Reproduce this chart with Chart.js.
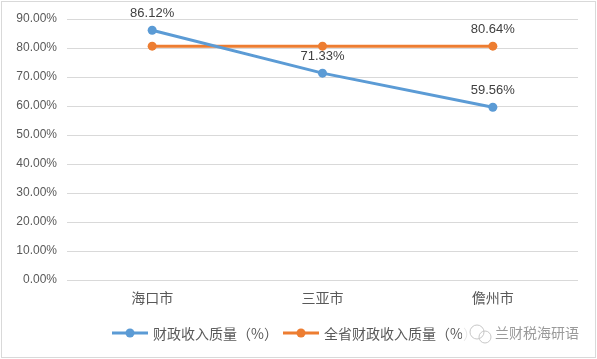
<!DOCTYPE html>
<html><head><meta charset="utf-8">
<script src="https://cdn.jsdelivr.net/npm/chart.js@4/dist/chart.umd.min.js"></script>
<style>
html,body{margin:0;padding:0;background:#fff;}
#wrap{position:relative;width:597px;height:359px;}
canvas{display:block;}
</style></head>
<body><div id="wrap"><canvas id="c" width="597" height="359"></canvas></div>
<script>
const categories = ["海口市", "三亚市", "儋州市"];
const cityQuality = [86.12, 71.33, 59.56];
const provinceQuality = [80.64, 80.64, 80.64];
const seriesNames = ["财政收入质量（%）", "全省财政收入质量（%）"];
const yTicks = [0, 10, 20, 30, 40, 50, 60, 70, 80, 90];
const labelShown = [[true, true, true], [false, false, true]];
const watermark = "兰财税海研语";

const BLUE = "#5B9BD5", ORANGE = "#ED7D31";
const CJK = "'Noto Sans CJK SC', sans-serif";
const NUM = "'Liberation Sans', Arial, sans-serif";

const framePlugin = {
  id: "frame",
  beforeDraw(chart) {
    const ctx = chart.ctx;
    ctx.save();
    ctx.fillStyle = "#fff";
    ctx.fillRect(0, 0, chart.width, chart.height);
    ctx.strokeStyle = "#d9d9d9";
    ctx.lineWidth = 1;
    ctx.strokeRect(1.5, 1.5, chart.width - 3, chart.height - 3);
    ctx.restore();
  },
  afterDatasetsDraw(chart) {
    const ctx = chart.ctx;
    ctx.save();
    // data labels
    ctx.font = "13px " + NUM;
    ctx.fillStyle = "#404040";
    ctx.textAlign = "center";
    ctx.textBaseline = "middle";
    chart.data.datasets.forEach((ds, di) => {
      const meta = chart.getDatasetMeta(di);
      meta.data.forEach((pt, i) => {
        if (!labelShown[di][i]) return;
        ctx.fillText(ds.data[i].toFixed(2) + "%", pt.x, pt.y - 17);
      });
    });
    // legend
    const ly = 333;
    const items = [{x: 112, color: BLUE}, {x: 283, color: ORANGE}];
    chart.data.datasets.forEach((ds, di) => {
      const it = items[di];
      ctx.strokeStyle = it.color;
      ctx.lineWidth = 3;
      ctx.beginPath();
      ctx.moveTo(it.x, ly);
      ctx.lineTo(it.x + 36, ly);
      ctx.stroke();
      ctx.fillStyle = it.color;
      ctx.beginPath();
      ctx.arc(it.x + 18, ly, 4.5, 0, Math.PI * 2);
      ctx.fill();
      ctx.fillStyle = "#595959";
      ctx.font = "14px " + CJK;
      ctx.textAlign = "left";
      ctx.fillText(ds.label, it.x + 41, ly + 1);
    });
    // watermark
    ctx.fillStyle = "rgba(255,255,255,0.85)";
    ctx.fillRect(462, 320, 120, 26);
    ctx.strokeStyle = "#c8c8c8";
    ctx.lineWidth = 1;
    ctx.beginPath();
    ctx.arc(477, 332, 7, 0, Math.PI * 2);
    ctx.stroke();
    ctx.beginPath();
    ctx.arc(485, 337, 6, 0, Math.PI * 2);
    ctx.stroke();
    ctx.fillStyle = "#9a9a9a";
    ctx.font = "14px " + CJK;
    ctx.textAlign = "left";
    ctx.fillText(watermark, 495, 333);
    ctx.restore();
  }
};

new Chart(document.getElementById("c"), {
  type: "line",
  data: {
    labels: categories,
    datasets: [
      {label: seriesNames[0], data: cityQuality, borderColor: BLUE, backgroundColor: BLUE,
       borderWidth: 3, pointRadius: 4.5, pointBackgroundColor: BLUE, pointBorderWidth: 0, tension: 0},
      {label: seriesNames[1], data: provinceQuality, borderColor: ORANGE, backgroundColor: ORANGE,
       borderWidth: 3, pointRadius: 4.5, pointBackgroundColor: ORANGE, pointBorderWidth: 0, tension: 0}
    ]
  },
  options: {
    responsive: false,
    animation: false,
    devicePixelRatio: 1,
    layout: {padding: {left: 0, top: 19, right: 19, bottom: 0}},
    plugins: {legend: {display: false}, tooltip: {enabled: false}},
    scales: {
      x: {
        offset: true,
        grid: {display: false, drawTicks: false},
        border: {display: false},
        ticks: {font: {family: CJK, size: 14}, color: "#595959", padding: 9},
        afterFit(a) { a.height = 79; }
      },
      y: {
        min: 0, max: 90,
        afterBuildTicks(a) { a.ticks = yTicks.map(v => ({value: v})); },
        grid: {color: "#d9d9d9", lineWidth: 1, drawTicks: false},
        border: {display: false},
        ticks: {font: {family: NUM, size: 12}, color: "#595959", padding: 10,
                callback: v => Number(v).toFixed(2) + "%"},
        afterFit(a) { a.width = 67; }
      }
    }
  },
  plugins: [framePlugin]
});
</script></body></html>
